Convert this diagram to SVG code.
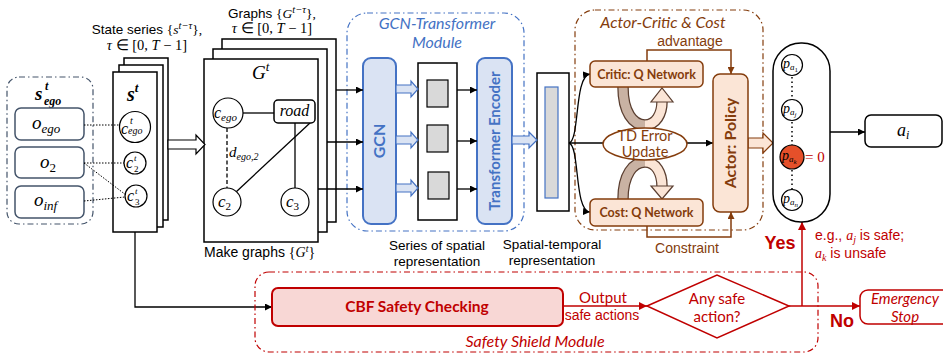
<svg xmlns="http://www.w3.org/2000/svg" width="943" height="360" viewBox="0 0 943 360">
<defs>
<marker id="ab" viewBox="0 0 10 10" refX="10" refY="5" markerWidth="7" markerHeight="7" markerUnits="userSpaceOnUse" orient="auto"><path d="M0,0 L10,5 L0,10 z" fill="#000"/></marker>
<marker id="ar" viewBox="0 0 10 10" refX="10" refY="5" markerWidth="8" markerHeight="8" markerUnits="userSpaceOnUse" orient="auto"><path d="M0,0 L10,5 L0,10 z" fill="#c00000"/></marker>
<marker id="abr" viewBox="0 0 10 10" refX="10" refY="5" markerWidth="7" markerHeight="7" markerUnits="userSpaceOnUse" orient="auto"><path d="M0,0 L10,5 L0,10 z" fill="#843c0c"/></marker>
</defs>
<style>
.lab{font-family:"Liberation Sans",Arial,sans-serif}
.m{font-family:"Liberation Serif","Times New Roman",serif;font-style:italic}
.r{font-family:"Liberation Serif","Times New Roman",serif;font-style:normal}
.cal{font-family:Lato,"Open Sans",sans-serif}
.box{fill:#fff;stroke:#000;stroke-width:1.5}
.cir{fill:#fff;stroke:#000;stroke-width:1.2}
.ob{fill:#fff;stroke:#44546a;stroke-width:1.5}
.blue{fill:#dae3f3;stroke:#4472c4;stroke-width:2}
.bt{fill:#4472c4;font-weight:bold}
.brbox{fill:#fbe5d6;stroke:#843c0c;stroke-width:1.5}
.brt{fill:#843c0c}
.red{fill:#c00000}
.harrow{fill:#fff;stroke:#000;stroke-width:1.2}
.barrow{fill:#dae3f3;stroke:#4472c4;stroke-width:1.2}
.line{fill:none;stroke:#000;stroke-width:1.3}
.rline{fill:none;stroke:#c00000;stroke-width:1.5}
.brline{fill:none;stroke:#843c0c;stroke-width:1.5}
</style>

<!-- top labels -->
<text class="lab" x="147" y="34" text-anchor="middle" font-size="13.5">State series <tspan class="r">{</tspan><tspan class="m">s</tspan><tspan class="m" font-size="10.5" dy="-5">t−τ</tspan><tspan class="r" dy="5">},</tspan></text>
<text class="r" x="147" y="50" text-anchor="middle" font-size="14.5"><tspan class="m">τ</tspan> ∈ [0, <tspan class="m">T</tspan> − 1]</text>
<text class="lab" x="272" y="18" text-anchor="middle" font-size="13.5">Graphs <tspan class="r">{</tspan><tspan class="m">G</tspan><tspan class="m" font-size="10.5" dy="-5">t−τ</tspan><tspan class="r" dy="5">},</tspan></text>
<text class="r" x="272" y="33" text-anchor="middle" font-size="14.5"><tspan class="m">τ</tspan> ∈ [0, <tspan class="m">T</tspan> − 1]</text>

<!-- s_ego group -->
<g id="s_ego">
<rect x="7" y="77" width="86" height="147" rx="12" fill="none" stroke="#44546a" stroke-width="1.2" stroke-dasharray="6,3,1.5,3"/>
<text class="m" x="35" y="100" font-size="19" font-weight="bold">s<tspan x="45" dy="-10" font-size="12">t</tspan><tspan x="44" dy="15" font-size="12">ego</tspan></text>
<rect class="ob" x="15" y="108" width="69" height="32" rx="6"/>
<text class="m" x="32" y="129" font-size="19">o<tspan font-size="13" dy="4">ego</tspan></text>
<rect class="ob" x="15" y="147" width="69" height="31" rx="6"/>
<text class="m" x="40" y="168" font-size="19">o<tspan class="r" font-size="13" dy="4">2</tspan></text>
<rect class="ob" x="15" y="186" width="69" height="32" rx="6"/>
<text class="m" x="34" y="206" font-size="19">o<tspan font-size="13" dy="4">inf</tspan></text>
</g>

<!-- s^t stack -->
<g id="s_t">
<rect class="box" x="124" y="58" width="44" height="162"/>
<rect class="box" x="119" y="65" width="44" height="162"/>
<rect class="box" x="113" y="72" width="44" height="160"/>
<text class="m" x="127" y="101" font-size="20" font-weight="bold">s<tspan dy="-9" font-size="13">t</tspan></text>
<circle class="cir" cx="135" cy="127" r="15.5"/>
<text class="m" x="121" y="134" font-size="16">c<tspan x="130" dy="-10" font-size="10">t</tspan><tspan x="128" dy="10" font-size="10">ego</tspan></text>
<circle class="cir" cx="135" cy="163" r="11"/>
<text class="m" x="126" y="168" font-size="16">c<tspan x="134" dy="-7" font-size="9">t</tspan><tspan class="r" x="134" dy="11" font-size="9">2</tspan></text>
<circle class="cir" cx="136" cy="196" r="11"/>
<text class="m" x="127" y="201" font-size="16">c<tspan x="135" dy="-7" font-size="9">t</tspan><tspan class="r" x="135" dy="11" font-size="9">3</tspan></text>
</g>

<!-- graph stack -->
<g id="graphs">
<rect class="box" x="222" y="39" width="114" height="183"/>
<rect class="box" x="213" y="49" width="114" height="183"/>
<rect class="box" x="204" y="59" width="114" height="183"/>
<text class="m" x="252" y="79" font-size="19">G<tspan font-size="13" dy="-8">t</tspan></text>
<line x1="243" y1="113" x2="274" y2="113" class="line"/>
<line x1="227" y1="128" x2="227" y2="188" class="line" stroke-dasharray="4,2.5"/>
<line x1="310" y1="123" x2="236" y2="192" class="line"/>
<line x1="295" y1="123" x2="295" y2="188" class="line"/>
<circle class="cir" cx="228" cy="113" r="15"/>
<text class="m" x="214" y="118" font-size="16">c<tspan font-size="11" dy="3">ego</tspan></text>
<rect class="box" x="274" y="100" width="41" height="23" rx="4" stroke-width="1.3"/>
<text class="m" x="294.5" y="116" font-size="16" text-anchor="middle">road</text>
<text class="m" x="229" y="157" font-size="15">d<tspan font-size="10" dy="3">ego,2</tspan></text>
<circle class="cir" cx="227" cy="202" r="14"/>
<text class="m" x="218" y="207" font-size="17">c<tspan class="r" font-size="11" dy="3">2</tspan></text>
<circle class="cir" cx="295" cy="202" r="14"/>
<text class="m" x="286" y="207" font-size="17">c<tspan class="r" font-size="11" dy="3">3</tspan></text>
</g>
<text class="lab" x="204" y="257" font-size="14">Make graphs <tspan class="r">{</tspan><tspan class="m">G</tspan><tspan class="m" font-size="10" dy="-5">t</tspan><tspan class="r" dy="5">}</tspan></text>

<!-- GCN-Transformer module -->
<g id="gcn_module">
<rect x="347" y="13" width="177" height="218" rx="20" fill="none" stroke="#4472c4" stroke-width="1.2" stroke-dasharray="6,3,1.5,3"/>
<text class="cal" x="437" y="29" text-anchor="middle" font-size="16" font-style="italic" fill="#4472c4">GCN-Transformer</text>
<text class="cal" x="437" y="48" text-anchor="middle" font-size="16" font-style="italic" fill="#4472c4">Module</text>
</g>
<g id="gcn">
<rect class="blue" x="363" y="58" width="33" height="166" rx="8"/>
<text class="cal bt" x="0" y="0" font-size="16" text-anchor="middle" transform="translate(385,141) rotate(-90)">GCN</text>
</g>
<g id="series">
<rect class="box" x="418" y="63" width="39" height="157"/>
<rect x="427" y="80" width="21" height="27" fill="#d9d9d9" stroke="#000" stroke-width="1.2"/>
<rect x="427" y="125" width="21" height="27" fill="#d9d9d9" stroke="#000" stroke-width="1.2"/>
<rect x="428" y="172" width="21" height="27" fill="#d9d9d9" stroke="#000" stroke-width="1.2"/>
</g>
<g id="transformer">
<rect class="blue" x="477" y="58" width="35" height="166" rx="8"/>
<text class="cal bt" x="0" y="0" font-size="15" text-anchor="middle" transform="translate(500,141) rotate(-90)">Transformer Encoder</text>
</g>
<text class="lab" x="437" y="250" text-anchor="middle" font-size="13.5">Series of spatial</text>
<text class="lab" x="437" y="266" text-anchor="middle" font-size="13.5">representation</text>

<g id="spatial_temporal">
<rect class="box" x="537" y="73" width="32" height="138"/>
<rect x="545" y="87" width="13" height="111" fill="#d9d9d9" stroke="#4472c4" stroke-width="1.2"/>
</g>
<text class="lab" x="552" y="249" text-anchor="middle" font-size="13.5">Spatial-temporal</text>
<text class="lab" x="552" y="265" text-anchor="middle" font-size="13.5">representation</text>

<!-- Actor-critic module -->
<g id="ac_module">
<rect x="575" y="10" width="188" height="220" rx="20" fill="none" stroke="#843c0c" stroke-width="1.2" stroke-dasharray="6,3,1.5,3"/>
<text class="cal brt" x="663" y="28" text-anchor="middle" font-size="16" font-style="italic">Actor-Critic &amp; Cost</text>
</g>

<!-- connectors -->
<g id="connectors">
<g stroke="#000" stroke-width="1" stroke-dasharray="1.5,1.5" fill="none">
<line x1="84" y1="125" x2="120" y2="125"/>
<line x1="84" y1="163" x2="124" y2="163"/>
<line x1="84" y1="163" x2="126" y2="195"/>
<line x1="84" y1="201" x2="125" y2="197"/>
</g>
<polygon class="harrow" points="168,140 196,140 196,135 205,144.5 196,154 196,149 168,149"/>
<line class="line" x1="336" y1="90" x2="363" y2="90" marker-end="url(#ab)"/>
<line class="line" x1="327" y1="142" x2="363" y2="142" marker-end="url(#ab)"/>
<line class="line" x1="318" y1="189" x2="363" y2="189" marker-end="url(#ab)"/>
<polygon class="barrow" points="396,85 411,85 411,81 418,89 411,97 411,93 396,93"/>
<polygon class="barrow" points="396,136 411,136 411,132 418,140 411,148 411,144 396,144"/>
<polygon class="barrow" points="396,184 411,184 411,180 418,188 411,196 411,192 396,192"/>
<line class="line" x1="457" y1="90" x2="477" y2="90" marker-end="url(#ab)"/>
<line class="line" x1="457" y1="141" x2="477" y2="141" marker-end="url(#ab)"/>
<line class="line" x1="457" y1="189" x2="477" y2="189" marker-end="url(#ab)"/>
<polygon class="barrow" points="512,136 529,136 529,132 537,140 529,148 529,144 512,144"/>
<path class="line" d="M569,143 C580,140 574,76 590,74" marker-end="url(#ab)"/>
<path class="line" d="M569,143 C580,146 574,211 590,212" marker-end="url(#ab)"/>
<line class="line" x1="569" y1="143" x2="713" y2="143" marker-end="url(#ab)"/>
<path class="brline" d="M647,61 V50 H731 V74" marker-end="url(#abr)"/>
<path class="brline" d="M647,226 V237 H731 V212" marker-end="url(#abr)"/>
<polygon points="748,138 763,138 763,133 773,143 763,153 763,148 748,148" fill="#fbe5d6" stroke="#843c0c" stroke-width="1.2"/>
<line class="line" x1="830" y1="132" x2="865" y2="132" marker-end="url(#ab)"/>
<path class="line" d="M135,232 V307 H272" marker-end="url(#ab)"/>
<line class="rline" x1="563" y1="306" x2="647" y2="306" marker-end="url(#ar)"/>
<line class="rline" x1="789" y1="306" x2="860" y2="306" marker-end="url(#ar)"/>
<line class="rline" x1="802" y1="306" x2="802" y2="222" marker-end="url(#ar)"/>
</g>

<!-- U ribbons -->
<g id="td_ribbons" fill="none">
<path d="M623,87 C623,112 633,125 645,125" stroke="#5a3e30" stroke-width="11.5"/>
<path d="M623,87 C623,112 633,125 645,125" stroke="#c9b2a3" stroke-width="9"/>
<path d="M645,125 C656,125 662,114 662,102" stroke="#5a3e30" stroke-width="11.5"/>
<path d="M645,125 C656,125 662,114 662,101" stroke="#fbe5d6" stroke-width="9"/>
<polygon points="651,102 673,102 662,88" fill="#fbe5d6" stroke="#5a3e30" stroke-width="1.2"/>
<path d="M623,199 C623,175 633,162 645,162" stroke="#5a3e30" stroke-width="11.5"/>
<path d="M623,199 C623,175 633,162 645,162" stroke="#c9b2a3" stroke-width="9"/>
<path d="M645,162 C656,162 662,173 662,186" stroke="#5a3e30" stroke-width="11.5"/>
<path d="M645,162 C656,162 662,173 662,187" stroke="#fbe5d6" stroke-width="9"/>
<polygon points="651,186 673,186 662,199" fill="#fbe5d6" stroke="#5a3e30" stroke-width="1.2"/>
</g>

<g id="critic">
<rect class="brbox" x="590" y="61" width="113" height="26" rx="5"/>
<text class="cal brt" x="646.5" y="79" text-anchor="middle" font-size="12.5" font-weight="bold">Critic: Q Network</text>
</g>
<g id="cost">
<rect class="brbox" x="590" y="199" width="113" height="27" rx="5"/>
<text class="cal brt" x="646.5" y="217" text-anchor="middle" font-size="12.5" font-weight="bold">Cost: Q Network</text>
</g>
<g id="td_error">
<ellipse cx="645" cy="144" rx="42" ry="16" fill="#fff" stroke="#843c0c" stroke-width="1.5"/>
<text class="cal brt" x="645" y="141" text-anchor="middle" font-size="14.5">TD Error</text>
<text class="cal brt" x="645" y="157" text-anchor="middle" font-size="14.5">Update</text>
</g>
<g id="actor">
<rect class="brbox" x="713" y="74" width="35" height="138" rx="7"/>
<text class="cal brt" x="0" y="0" text-anchor="middle" font-size="16" font-weight="bold" transform="translate(736,143) rotate(-90)">Actor: Policy</text>
</g>
<text class="lab brt" x="690" y="46" text-anchor="middle" font-size="14">advantage</text>
<text class="lab brt" x="687" y="253" text-anchor="middle" font-size="14">Constraint</text>

<!-- pill -->
<g id="policy_output">
<rect x="773" y="43" width="57" height="179" rx="28" fill="#fff" stroke="#000" stroke-width="1.5"/>
<g stroke="#000" stroke-width="1.5" stroke-dasharray="1.5,3">
<line x1="792" y1="77" x2="792" y2="99"/>
<line x1="792" y1="122" x2="792" y2="145"/>
<line x1="792" y1="170" x2="792" y2="189"/>
</g>
<circle class="cir" cx="792" cy="65" r="10.5"/>
<text class="m" x="783" y="68" font-size="14">p<tspan font-size="9" dy="2">a</tspan><tspan class="r" font-size="7" dy="2">1</tspan></text>
<circle class="cir" cx="792" cy="110" r="10.5"/>
<text class="m" x="783" y="113" font-size="14">p<tspan font-size="9" dy="2">a</tspan><tspan font-size="7" dy="2">j</tspan></text>
<circle cx="792" cy="157" r="12" fill="#e5502a" stroke="#000" stroke-width="1.2"/>
<text class="m" x="782" y="160" font-size="14">p<tspan font-size="9" dy="2">a</tspan><tspan font-size="7" dy="2">k</tspan></text>
<circle class="cir" cx="792" cy="200" r="10.5"/>
<text class="m" x="783" y="203" font-size="14">p<tspan font-size="9" dy="2">a</tspan><tspan font-size="7" dy="2">n</tspan></text>
<text class="r red" x="805" y="162" font-size="15">= 0</text>
</g>
<g id="a_i">
<rect class="box" x="865" y="115" width="77" height="32" rx="6"/>
<text class="m" x="897" y="136" font-size="18">a<tspan font-size="12" dy="3">i</tspan></text>
</g>

<!-- Safety shield -->
<g id="safety_shield">
<rect x="255" y="272" width="563" height="80" rx="14" fill="none" stroke="#c00000" stroke-width="1.2" stroke-dasharray="6,3,1.5,3"/>
<text class="cal red" x="535" y="347" text-anchor="middle" font-size="16" font-style="italic">Safety Shield Module</text>
</g>
<g id="cbf">
<rect x="272" y="288" width="291" height="38" rx="6" fill="#f8d7d5" stroke="#c00000" stroke-width="2"/>
<text class="cal red" x="417" y="312" text-anchor="middle" font-size="15.5" font-weight="bold">CBF Safety Checking</text>
</g>
<text class="cal red" x="603" y="303" text-anchor="middle" font-size="15">Output</text>
<text class="lab red" x="602" y="320" text-anchor="middle" font-size="14">safe actions</text>
<g id="decision">
<polygon points="647,306 717,275 789,306 717,338" fill="#fff" stroke="#c00000" stroke-width="1.5"/>
<text class="cal red" x="717" y="304" text-anchor="middle" font-size="15">Any safe</text>
<text class="cal red" x="717" y="322" text-anchor="middle" font-size="15">action?</text>
</g>
<g id="emergency">
<rect x="860" y="290" width="95" height="34" rx="8" fill="#fff" stroke="#c00000" stroke-width="1.5"/>
<text class="cal red" x="905" y="304" text-anchor="middle" font-size="15" font-style="italic">Emergency</text>
<text class="cal red" x="905" y="322" text-anchor="middle" font-size="15" font-style="italic">Stop</text>
</g>
<text class="lab red" x="780" y="249" text-anchor="middle" font-size="18" font-weight="bold">Yes</text>
<text class="lab red" x="842" y="327" text-anchor="middle" font-size="18" font-weight="bold">No</text>
<text class="lab red" x="815" y="240" font-size="14">e.g., <tspan class="m">a</tspan><tspan class="m" font-size="10" dy="3">j</tspan><tspan dy="-3"> is safe;</tspan></text>
<text class="lab red" x="815" y="258" font-size="14"><tspan class="m">a</tspan><tspan class="m" font-size="10" dy="3">k</tspan><tspan dy="-3"> is unsafe</tspan></text>
</svg>
